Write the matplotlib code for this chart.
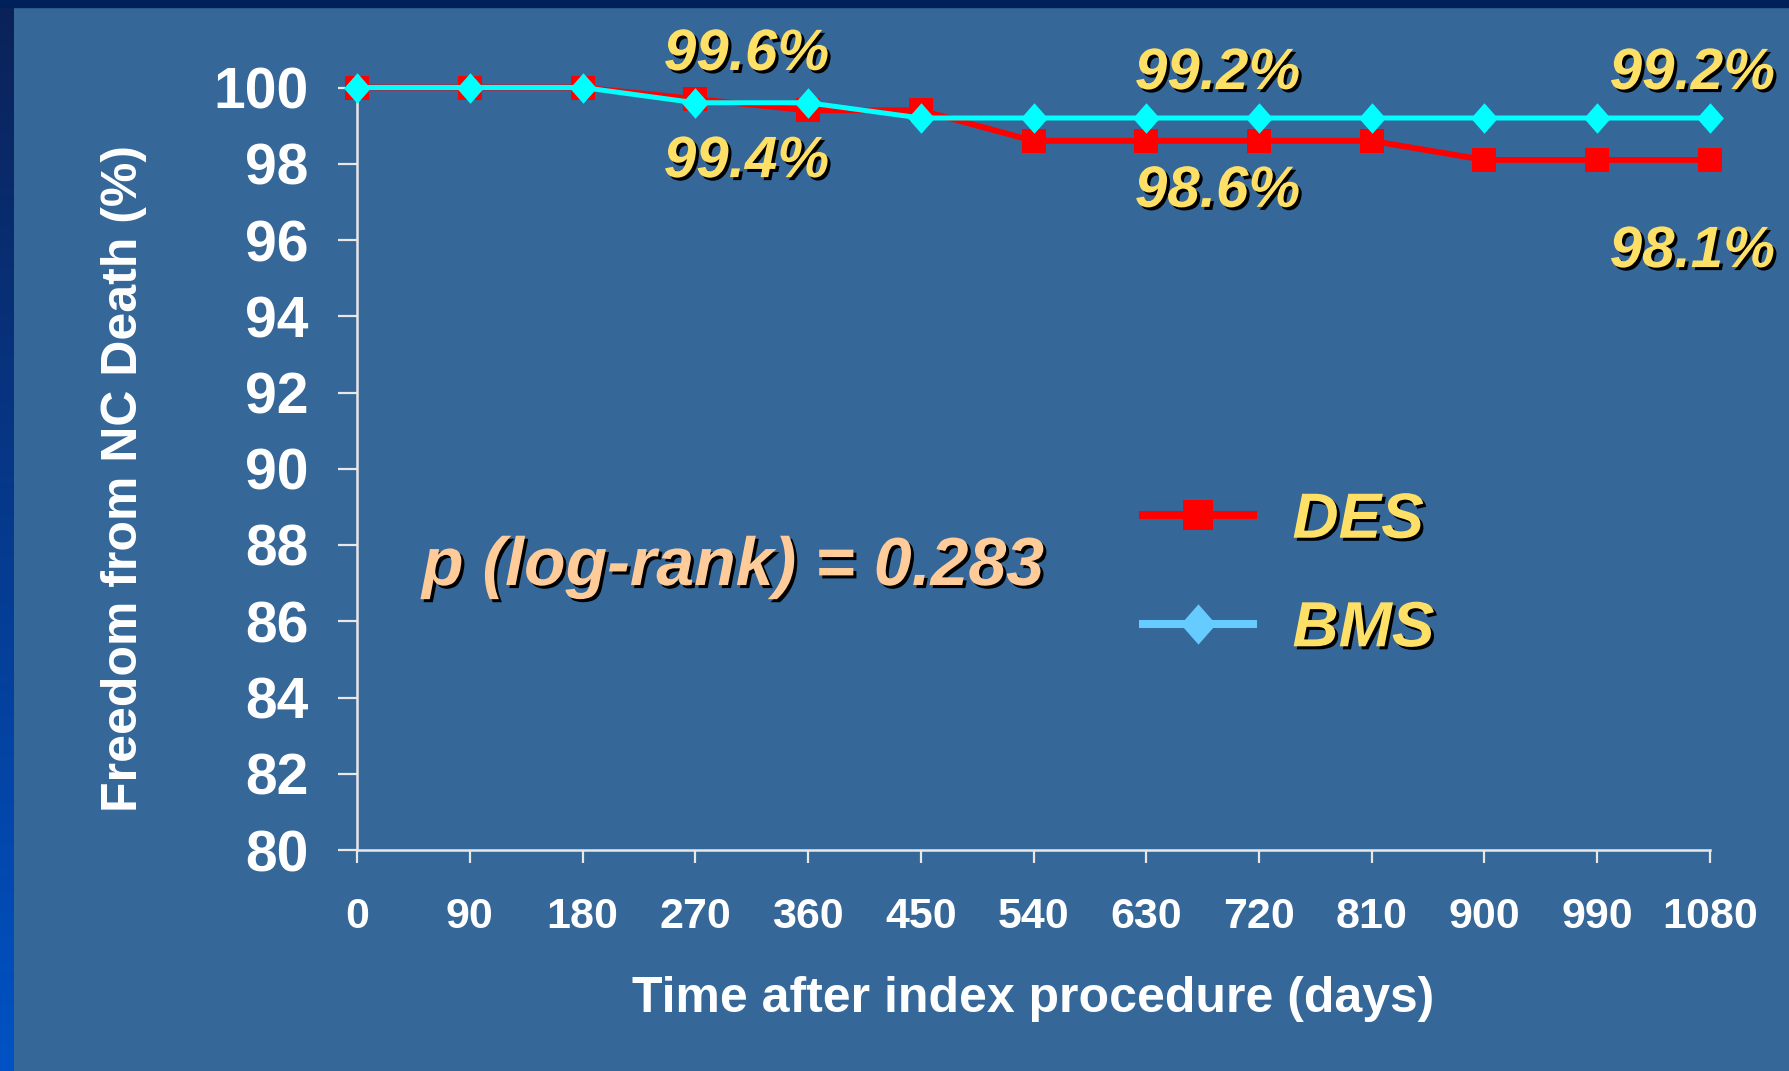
import numpy as np
import matplotlib
matplotlib.use('Agg')
import matplotlib.pyplot as plt
import matplotlib.patheffects as pe
from matplotlib.lines import Line2D
from matplotlib.path import Path
from matplotlib.patches import Rectangle
from matplotlib.colors import LinearSegmentedColormap

# ---------------- data ----------------
days = [0, 90, 180, 270, 360, 450, 540, 630, 720, 810, 900, 990, 1080]
des = [100, 100, 100, 99.7, 99.4, 99.4, 98.6, 98.6, 98.6, 98.6, 98.1, 98.1, 98.1]
bms = [100, 100, 100, 99.6, 99.6, 99.2, 99.2, 99.2, 99.2, 99.2, 99.2, 99.2, 99.2]
yticks = [80, 82, 84, 86, 88, 90, 92, 94, 96, 98, 100]
series_names = ['DES', 'BMS']
pct_labels = ['99.6%', '99.4%', '99.2%', '98.6%', '99.2%', '98.1%']
p_text = 'p (log-rank) = 0.283'
xlabel = 'Time after index procedure (days)'
ylabel = 'Freedom from NC Death (%)'

# ---------------- layout / style ----------------
W, H = 1790, 1071
BG = '#356798'
YELLOW = '#FFE066'
PEACH = '#FFCC99'
pct_pos = [(311, 100.46), (311, 97.65), (687, 99.96), (687, 96.87), (1066, 99.96), (1066, 95.29)]
p_pos = (300, 86.95)

plt.rcParams['font.family'] = ['Liberation Sans', 'DejaVu Sans']
plt.rcParams['font.weight'] = 'bold'

fig = plt.figure(figsize=(W / 100, H / 100), dpi=100, facecolor=BG)

# left gradient strip and top bar
cmap = LinearSegmentedColormap.from_list('strip', ['#0B2258', '#0052C4'])
sax = fig.add_axes([0, 0, 14 / W, 1])
sax.imshow(np.linspace(0, 1, 256).reshape(-1, 1), aspect='auto', cmap=cmap)
sax.axis('off')
fig.add_artist(Rectangle((0, 1 - 7 / H), 1, 7 / H, transform=fig.transFigure,
                         color='#00205B', zorder=5))

ax = fig.add_axes([357 / W, 1 - 850 / H, (1710 - 357) / W, (850 - 87.5) / H])
ax.set_facecolor('none')

diamond = Path([(0, 1), (0.88, 0), (0, -1), (-0.88, 0), (0, 1)],
               [Path.MOVETO, Path.LINETO, Path.LINETO, Path.LINETO, Path.CLOSEPOLY])

ax.plot(days, des, color='#FF0000', lw=4.2, marker='s', ms=17, mec='#FF0000',
        mew=0, zorder=3, clip_on=False)
ax.plot(days, bms, color='#00FFFF', lw=3.6, marker=diamond, ms=22, mew=0,
        zorder=4, clip_on=False)

ax.set_xlim(0, 1080)
ax.set_ylim(80, 100)
ax.set_xticks(days)
ax.set_xticklabels([str(d) for d in days])
ax.set_yticks(yticks)
ax.set_yticklabels([str(v) for v in yticks])

for s in ['top', 'right']:
    ax.spines[s].set_visible(False)
for s in ['left', 'bottom']:
    ax.spines[s].set_color('#E8E8E8')
    ax.spines[s].set_linewidth(1.8)

ax.tick_params(axis='x', length=9.5, width=1.6, color='#E8E8E8', pad=24,
               labelsize=31, labelcolor='white')
ax.tick_params(axis='y', length=14, width=1.6, color='#E8E8E8', pad=21,
               labelsize=41, labelcolor='white')
for t in ax.get_xticklabels() + ax.get_yticklabels():
    t.set_fontweight('bold')

fig.text(1033 / W, 1 - 1012 / H, xlabel, fontsize=36, color='white',
         fontweight='bold', ha='center', va='baseline')
fig.text(137 / W, 1 - 478 / H, ylabel, fontsize=36, color='white',
         fontweight='bold', rotation=90, rotation_mode='anchor',
         ha='center', va='baseline')

shadow = [pe.withSimplePatchShadow(offset=(2.2, -2.2), shadow_rgbFace='black', alpha=1.0)]

for txt, (x, y) in zip(pct_labels, pct_pos):
    ax.text(x, y, txt, fontsize=42, color=YELLOW, fontweight='bold',
            fontstyle='italic', ha='center', va='baseline', path_effects=shadow,
            zorder=6, clip_on=False)

ax.text(p_pos[0], p_pos[1], p_text, fontsize=49, color=PEACH, fontweight='bold',
        fontstyle='italic', ha='center', va='baseline', path_effects=shadow)

handles = [
    Line2D([], [], color='#FF0000', lw=5.8, marker='s', ms=22, mew=0),
    Line2D([], [], color='#66CCFF', lw=5.8, marker=diamond, ms=29, mew=0),
]
leg = ax.legend(handles, series_names, loc='center left',
                bbox_to_anchor=(1143 / W, 1 - 575 / H), bbox_transform=fig.transFigure,
                frameon=False, borderpad=0, borderaxespad=0,
                handlelength=1.72, handletextpad=0.62, labelspacing=0.76,
                prop=dict(family='Liberation Sans', weight='bold', style='italic', size=46),
                labelcolor=YELLOW)
for t in leg.get_texts():
    t.set_path_effects(shadow)

fig.savefig('out.png', dpi=100, facecolor=BG)
